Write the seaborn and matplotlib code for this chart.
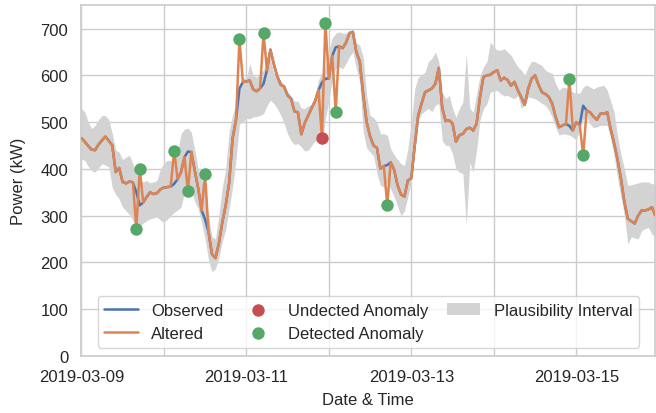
import numpy as np
import pandas as pd
import matplotlib
matplotlib.use("Agg")
import matplotlib.pyplot as plt
import matplotlib.dates as mdates
import seaborn as sns

# hourly observations, 2019-03-09 00:00 .. 2019-03-15 23:00
observed = [
    466, 458, 449, 441, 440, 452, 461, 469, 460, 450, 393, 402, 372, 369, 373, 371, 350, 322, 328, 340, 350, 346, 348, 356,
    360, 361, 362, 368, 378, 393, 425, 437, 436, 396, 358, 311, 292, 265, 218, 209, 240, 285, 322, 370, 465, 505, 572, 586,
    587, 589, 570, 566, 572, 582, 611, 655, 624, 598, 580, 576, 557, 550, 523, 521, 474, 498, 514, 530, 545, 568, 585, 593,
    593, 642, 660, 662, 658, 670, 690, 693, 650, 630, 560, 500, 470, 450, 445, 400, 406, 408, 414, 398, 365, 345, 341, 375,
    380, 450, 514, 540, 564, 568, 572, 582, 616, 530, 502, 504, 497, 458, 472, 475, 485, 488, 482, 497, 554, 597, 600, 601,
    607, 611, 589, 595, 590, 578, 586, 568, 553, 537, 571, 593, 600, 580, 564, 560, 554, 539, 511, 489, 493, 496, 492, 482,
    500, 494, 535, 525, 521, 512, 505, 518, 518, 521, 485, 455, 420, 379, 329, 293, 288, 283, 300, 311, 311, 313, 318, 300,
]

upper = [
    529, 522, 500, 486, 493, 505, 514, 514, 505, 475, 440, 436, 420, 425, 429, 411, 390, 377, 372, 375, 370, 372, 375, 400,
    412, 418, 418, 418, 435, 475, 485, 487, 478, 440, 400, 379, 343, 300, 255, 250, 300, 360, 400, 480, 515, 540, 571, 595,
    593, 625, 600, 596, 605, 611, 640, 635, 605, 598, 590, 578, 565, 556, 545, 545, 530, 529, 535, 538, 555, 590, 605, 618,
    655, 680, 690, 693, 690, 690, 697, 690, 670, 664, 639, 557, 514, 510, 500, 475, 475, 472, 443, 430, 420, 411, 407, 443,
    500, 571, 596, 600, 607, 630, 636, 650, 630, 564, 550, 557, 530, 510, 529, 543, 646, 530, 521, 560, 600, 618, 629, 671,
    661, 654, 654, 657, 650, 643, 630, 618, 611, 600, 618, 630, 629, 625, 621, 611, 607, 604, 582, 568, 575, 573, 571, 564,
    562, 562, 575, 579, 575, 571, 575, 577, 579, 568, 545, 521, 470, 430, 400, 364, 366, 368, 370, 372, 372, 372, 368, 368,
]

lower = [
    421, 418, 405, 396, 393, 402, 411, 408, 404, 360, 345, 336, 318, 310, 302, 290, 271, 277, 284, 289, 293, 295, 297, 290,
    286, 292, 300, 307, 312, 318, 350, 354, 354, 330, 314, 285, 250, 205, 180, 186, 210, 245, 270, 315, 360, 420, 496, 500,
    508, 507, 511, 512, 514, 518, 535, 547, 540, 529, 515, 497, 475, 460, 452, 454, 447, 438, 440, 450, 460, 458, 450, 507,
    545, 590, 615, 618, 614, 625, 640, 650, 615, 585, 480, 445, 436, 428, 390, 365, 361, 372, 357, 340, 320, 300, 310, 340,
    372, 436, 504, 518, 524, 529, 522, 536, 540, 460, 450, 450, 432, 400, 393, 390, 279, 414, 393, 440, 505, 529, 539, 564,
    566, 568, 561, 556, 557, 553, 550, 557, 530, 536, 554, 552, 550, 545, 540, 536, 525, 510, 489, 472, 475, 474, 472, 468,
    461, 485, 505, 514, 496, 488, 490, 493, 493, 493, 465, 429, 380, 340, 300, 239, 255, 252, 250, 268, 272, 275, 260, 257,
]

# injected anomalies: hour index -> altered value
detected_idx = [16, 17, 27, 31, 36, 46, 53, 71, 74, 89, 142, 146]
detected_val = [272, 400, 439, 352, 389, 677, 690, 713, 522, 323, 592, 429]
undetected_idx = [70]
undetected_val = [467]

times = pd.date_range("2019-03-09 00:00", periods=len(observed), freq="h")
altered = np.array(observed, dtype=float)
altered[detected_idx] = detected_val
altered[undetected_idx] = undetected_val

sns.set_theme(style="whitegrid", palette="deep")
plt.rcParams["font.family"] = ["Liberation Sans", "DejaVu Sans"]
pal = sns.color_palette("deep")

fig, ax = plt.subplots(figsize=(6.56, 4.14), dpi=100)
fig.subplots_adjust(left=0.124, right=0.999, top=0.985, bottom=0.138)

ax.fill_between(times, lower, upper, color="lightgrey", linewidth=0,
                label="Plausibility Interval", zorder=1)
sns.lineplot(x=times, y=observed, ax=ax, color=pal[0], linewidth=1.8,
             label="Observed", zorder=2)
sns.lineplot(x=times, y=altered, ax=ax, color=pal[1], linewidth=1.8,
             label="Altered", zorder=3)
sns.scatterplot(x=times[undetected_idx], y=undetected_val, ax=ax, color=pal[3],
                s=80, linewidth=0, label="Undected Anomaly", zorder=4)
sns.scatterplot(x=times[detected_idx], y=detected_val, ax=ax, color=pal[2],
                s=80, linewidth=0, label="Detected Anomaly", zorder=4)

handles, labels = ax.get_legend_handles_labels()
order = ["Observed", "Altered", "Undected Anomaly", "Detected Anomaly", "Plausibility Interval"]
hmap = dict(zip(labels, handles))
ax.legend([hmap[k] for k in order], order, ncol=3, loc="lower center",
          fontsize=12, frameon=True, borderaxespad=0.5, columnspacing=1.1)

ax.set_ylim(0, 750)
ax.set_yticks(range(0, 701, 100))
ax.set_xlim(times[0], times[-1])
ax.xaxis.set_major_locator(mdates.DayLocator(bymonthday=[9, 11, 13, 15]))
ax.xaxis.set_minor_locator(mdates.DayLocator())
ax.xaxis.set_major_formatter(mdates.DateFormatter("%Y-%m-%d"))
ax.grid(which="minor", axis="x", color="#cccccc", linewidth=1)
ax.tick_params(labelsize=12)
ax.set_xlabel("Date & Time", fontsize=12, labelpad=6)
ax.set_ylabel("Power (kW)", fontsize=12, labelpad=10)

fig.savefig("out.png", dpi=100)
